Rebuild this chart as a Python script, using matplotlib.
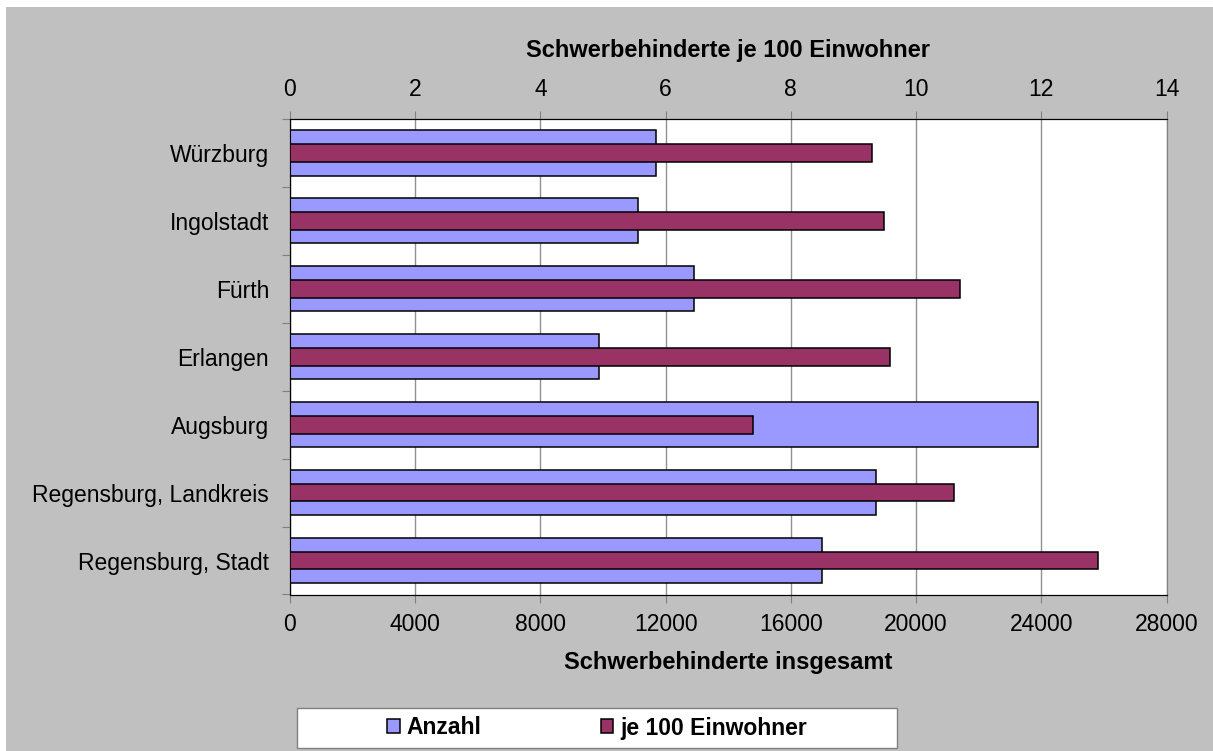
import matplotlib
matplotlib.use('Agg')
import matplotlib.pyplot as plt
from matplotlib.patches import Rectangle, Patch
import numpy as np

plt.rcParams['font.family'] = ['Liberation Sans', 'DejaVu Sans']

# data (bottom to top, as drawn)
cities = ['Regensburg, Stadt', 'Regensburg, Landkreis', 'Augsburg', 'Erlangen',
          'Fürth', 'Ingolstadt', 'Würzburg']
anzahl = [17000, 18720, 23890, 9870, 12900, 11120, 11680]
je100 = [12.90, 10.60, 7.39, 9.59, 10.70, 9.48, 9.29]

c_blue = '#9999FF'
c_red = '#993366'
c_bg = '#C0C0C0'
_fs = 16.5

W, H = 1213, 751
fig = plt.figure(figsize=(W/100, H/100), dpi=100)
fig.patch.set_facecolor('white')
fig.patches.append(Rectangle((6/W, 0), 1, 1 - 7/H, transform=fig.transFigure,
                             facecolor=c_bg, edgecolor='none', zorder=-10))

left, right = 290/W, 1166.5/W
top, bottom = 1 - 119/H, 1 - 594.5/H
ax = fig.add_axes([left, bottom, right-left, top-bottom])
ax.set_facecolor('white')

y = np.arange(len(cities))

# Anzahl on bottom axis
ax.barh(y, anzahl, height=0.665, color=c_blue, edgecolor='black', linewidth=1.1, zorder=3)
ax.set_xlim(0, 28000)
ax.set_ylim(-0.5, len(cities)-0.5)
ax.set_xticks(np.arange(0, 28001, 4000))
ax.grid(axis='x', color='#909090', linewidth=1, zorder=0)
ax.set_axisbelow(True)
ax.tick_params(axis='x', labelsize=_fs, length=6, color='#808080', pad=7)

# categories: ticks at boundaries, labels in between
ax.set_yticks(np.arange(-0.5, len(cities), 1))
ax.set_yticklabels([])
ax.set_yticks(y, minor=True)
ax.set_yticklabels(cities, minor=True, fontsize=_fs)
ax.tick_params(axis='y', which='major', length=6, color='#808080')
ax.tick_params(axis='y', which='minor', length=0, pad=15)

ax.spines['left'].set_color('black')
ax.spines['bottom'].set_color('black')
ax.spines['right'].set_color('#808080')
ax.spines['top'].set_color('black')

# je 100 Einwohner on top axis
ax2 = ax.twiny()
ax2.barh(y, je100, height=0.26, color=c_red, edgecolor='black', linewidth=1.1, zorder=3)
ax2.set_xlim(0, 14)
ax2.set_xticks(np.arange(0, 15, 2))
ax2.tick_params(axis='x', labelsize=_fs, length=6, color='#808080', pad=7)
ax2.spines['right'].set_color('#808080')
ax2.patch.set_visible(False)

fig.text((left+right)/2, 1 - 50/H, 'Schwerbehinderte je 100 Einwohner',
         ha='center', va='center', fontsize=_fs+0.5, fontweight='bold')
fig.text((left+right)/2, 1 - 662/H, 'Schwerbehinderte insgesamt',
         ha='center', va='center', fontsize=_fs+0.5, fontweight='bold')

# legend box
lx0, ly0, lw, lh = 297/W, 1 - 748/H, 600/W, 40/H
fig.patches.append(Rectangle((lx0, ly0), lw, lh, transform=fig.transFigure,
                             facecolor='white', edgecolor='#808080', linewidth=1, zorder=1))
handles = [Patch(facecolor=c_blue, edgecolor='black', linewidth=1.1, label='Anzahl'),
           Patch(facecolor=c_red, edgecolor='black', linewidth=1.1, label='je 100 Einwohner')]
leg = fig.legend(handles=handles, loc='center', ncol=2,
                 bbox_to_anchor=(lx0, ly0, lw, lh),
                 bbox_transform=fig.transFigure, frameon=False,
                 prop={'weight': 'bold', 'size': _fs},
                 handlelength=0.55, handleheight=0.55, handletextpad=0.3,
                 columnspacing=5.2, borderpad=0.0)

fig.savefig('out.png', dpi=100)
